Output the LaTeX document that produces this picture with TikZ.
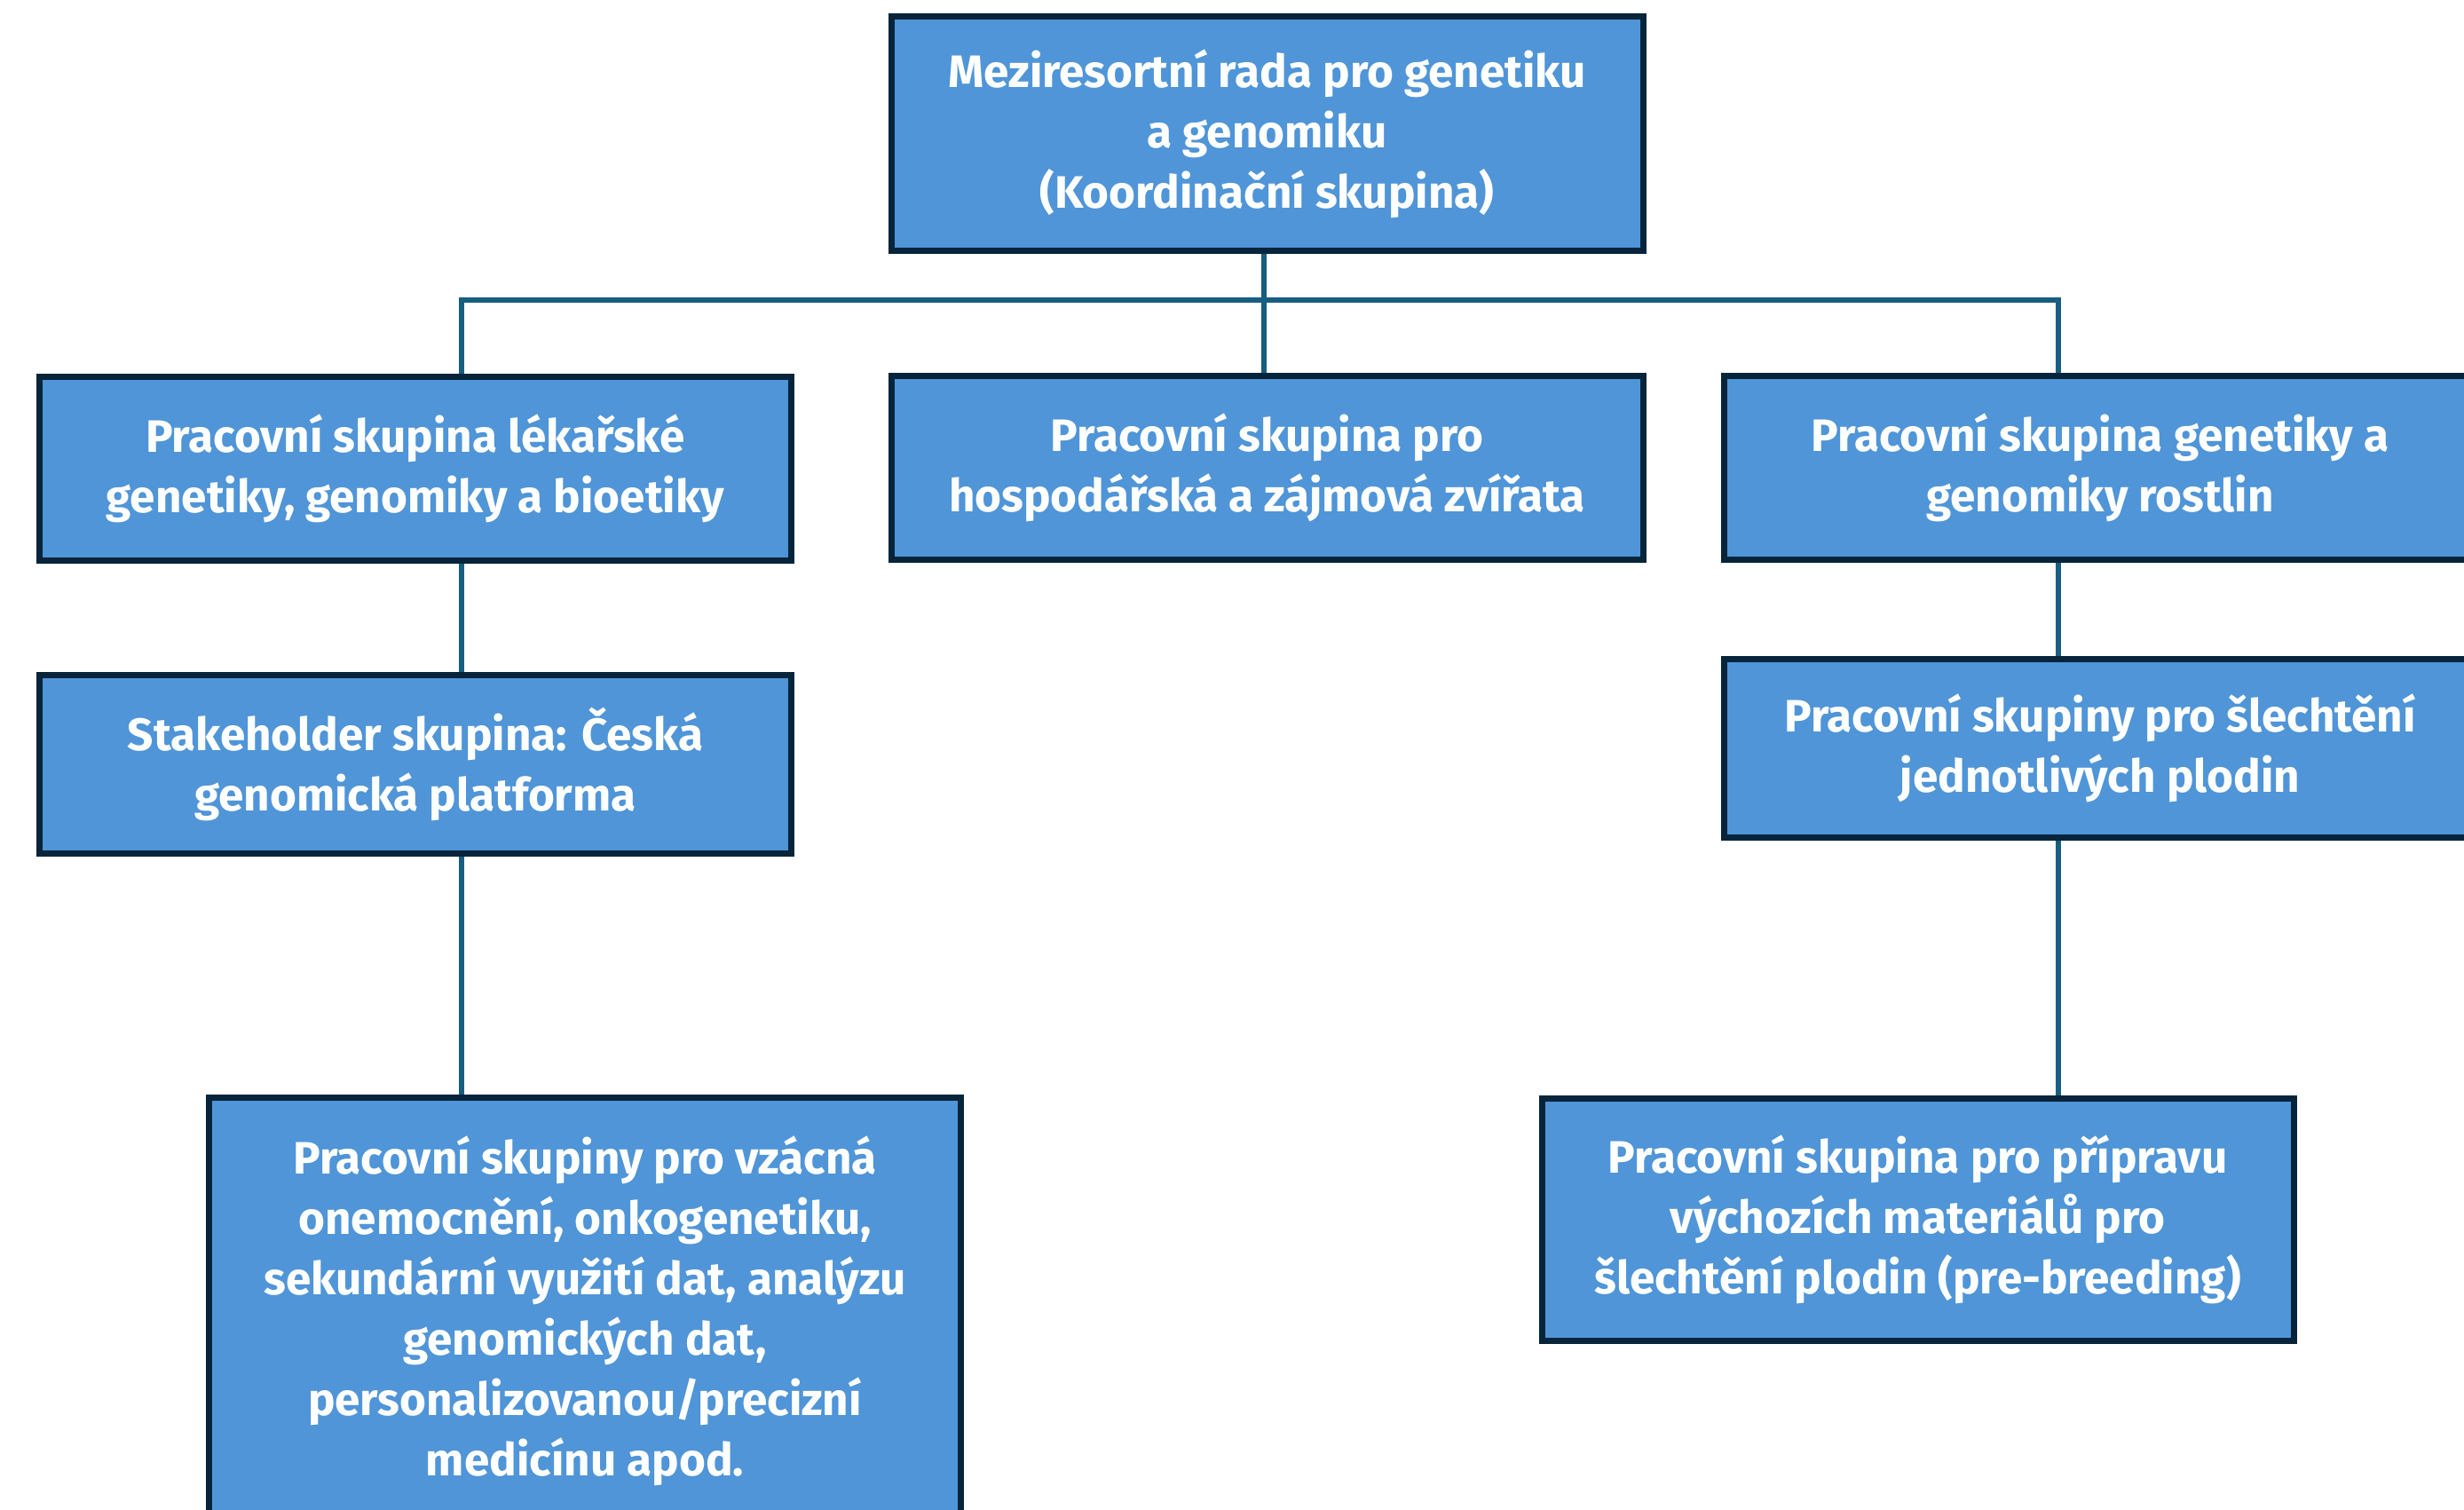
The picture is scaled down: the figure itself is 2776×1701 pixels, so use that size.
\documentclass[tikz,border=0pt]{standalone}
\usepackage{fontspec}
\setmainfont{Fira Sans}
\definecolor{boxc}{HTML}{4F95D8}
\definecolor{bordc}{HTML}{06243A}
\definecolor{connc}{HTML}{175E80}
\tikzset{
  box/.style={draw=bordc, fill=boxc, line width=1.75pt, text=white, align=center,
    font=\bfseries\fontsize{12.8}{17}\selectfont, inner sep=0pt, minimum width=211.75pt},
  conn/.style={draw=connc, line width=1.3pt}
}
\newcommand{\liftup}{\\[-14pt]\mbox{}}
\begin{document}
\begin{tikzpicture}[x=0.25pt,y=-0.25pt]
\useasboundingbox (0,0) rectangle (2776,1701);
\clip (0,0) rectangle (2776,1701);
\fill[white] (0,0) rectangle (2776,1701);
\coordinate (cL) at (520,338);
\coordinate (cR) at (2319,338);
\coordinate (cM) at (1424,338);
% boxes
\node[box, minimum height=66pt] (top) at (1427.5,150.5) {Meziresortní rada pro genetiku\\a genomiku\\(Koordinační skupina)};
\node[box, minimum height=51.75pt] (l1) at (468,528) {Pracovní skupina lékařské\\genetiky, genomiky a bioetiky\liftup};
\node[box, minimum height=51.75pt] (mid) at (1427.5,527) {Pracovní skupina pro\\hospodářská a zájmová zvířata\liftup};
\node[box, minimum height=51.75pt] (r1) at (2366,527) {Pracovní skupina genetiky a\\genomiky rostlin\liftup};
\node[box, minimum height=50.25pt] (l2) at (468,861) {Stakeholder skupina: Česká\\genomická platforma\liftup};
\node[box, minimum height=50.25pt] (r2) at (2366,843) {Pracovní skupiny pro šlechtění\\jednotlivých plodin\liftup};
\node[box, minimum height=120pt] (l3) at (659,1476.5) {Pracovní skupiny pro vzácná\\onemocnění, onkogenetiku,\\sekundární využití dat, analýzu\\genomických dat,\\personalizovanou/precizní\\medicínu apod.};
\node[box, minimum height=68.25pt] (r3) at (2160.5,1374) {Pracovní skupina pro přípravu\\výchozích materiálů pro\\šlechtění plodin (pre-breeding)\liftup};
% connectors
\draw[conn] (top.south -| cM) -- (mid.north -| cM);
\draw[conn] (l1.north -| cL) -- (cL) -- (cR) -- (r1.north -| cR);
\draw[conn] (l1.south -| cL) -- (l2.north -| cL);
\draw[conn] (l2.south -| cL) -- (l3.north -| cL);
\draw[conn] (r1.south -| cR) -- (r2.north -| cR);
\draw[conn] (r2.south -| cR) -- (r3.north -| cR);
\end{tikzpicture}
\end{document}
